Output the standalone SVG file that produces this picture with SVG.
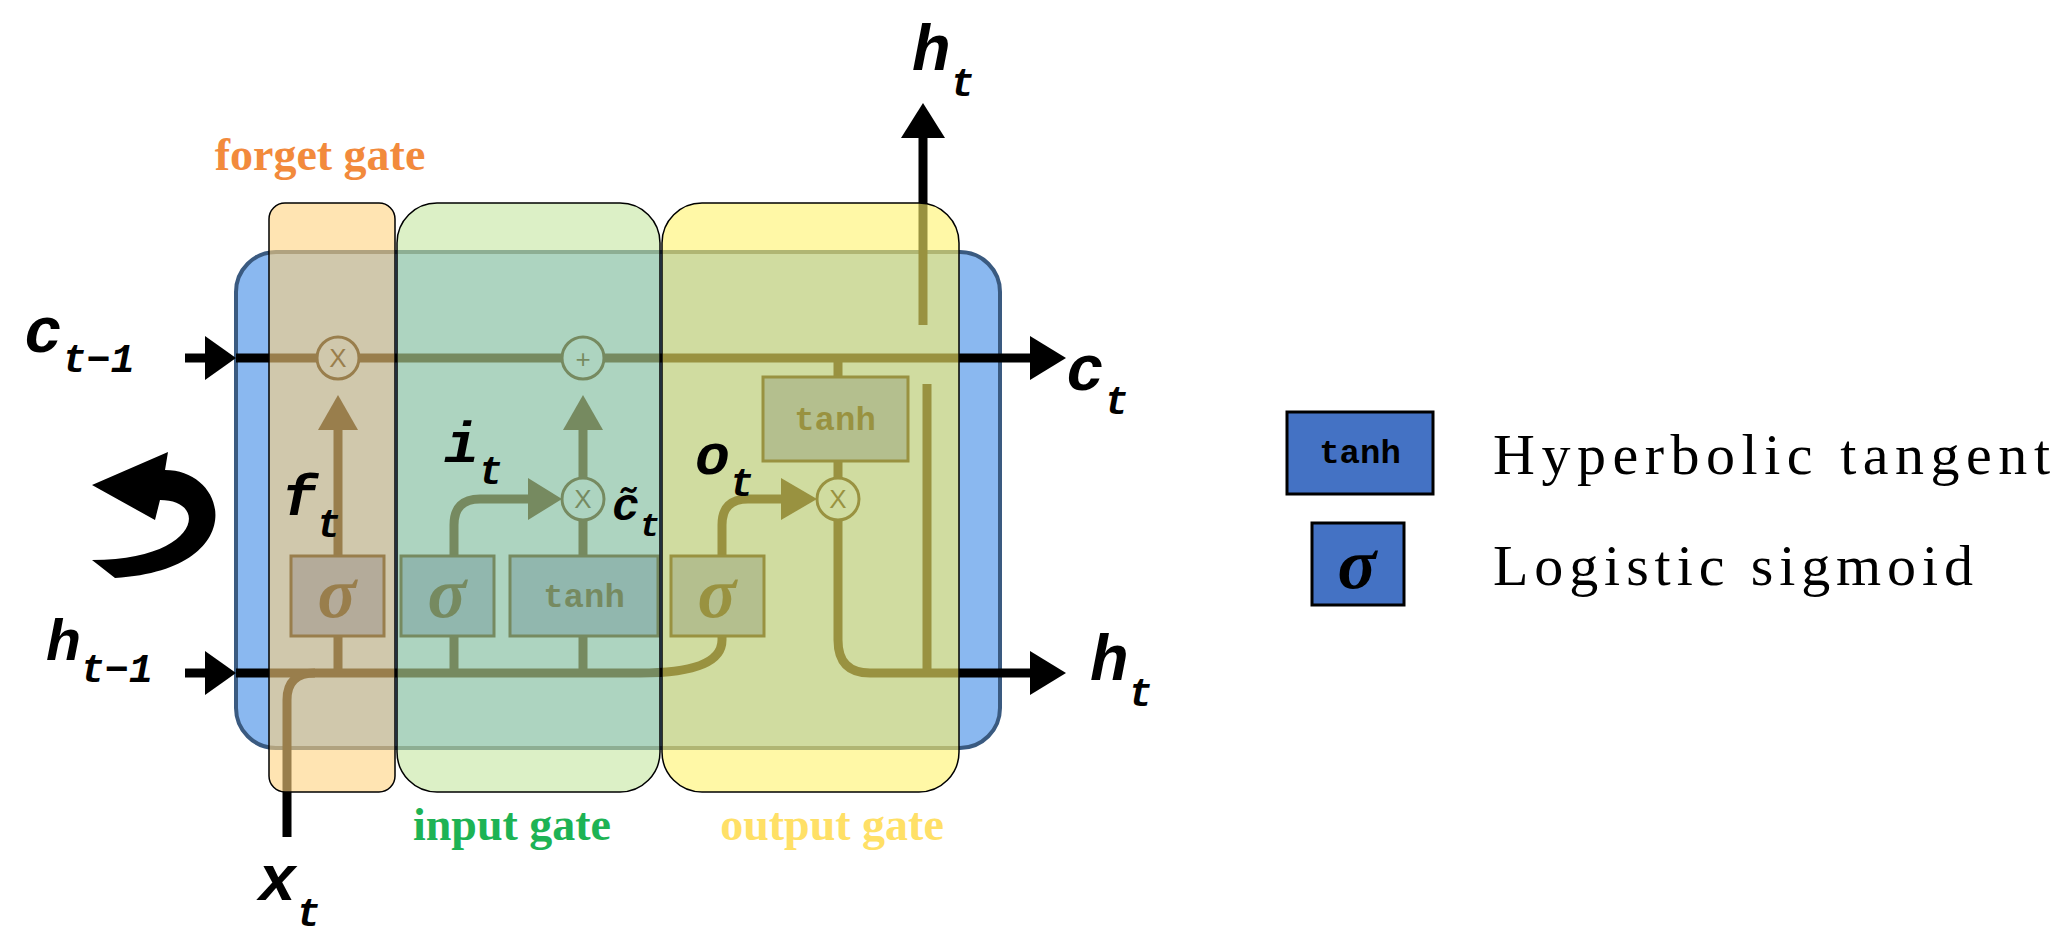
<svg xmlns="http://www.w3.org/2000/svg" width="2066" height="944" viewBox="0 0 2066 944">
<style>
.ln{fill:none;stroke:#000;stroke-width:9;stroke-linejoin:round}
.box{fill:#4472C4;stroke:#000;stroke-width:3}
.op{fill:#8ab8f0;stroke:#000;stroke-width:3}
.m{font-family:"Liberation Mono",monospace;font-weight:bold;font-style:italic;fill:#000}
.tn{font-family:"Liberation Mono",monospace;font-weight:bold;font-size:34px;fill:#000;text-anchor:middle}
.sg{font-family:"Liberation Serif",serif;font-style:italic;font-weight:bold;font-size:72px;fill:#000;text-anchor:middle}
.gl{font-family:"Liberation Serif",serif;font-weight:bold;font-size:46px;text-anchor:middle}
.lg{font-family:"Liberation Serif",serif;font-size:58px;fill:#000}
.ox{font-family:"Liberation Sans",sans-serif;font-size:26px;fill:#000;text-anchor:middle}
</style>
<defs><marker id="ah" markerWidth="5" markerHeight="5" refX="4" refY="2.5" orient="auto" markerUnits="strokeWidth"><path d="M0,0 L5,2.5 L0,5 Z" fill="#000"/></marker></defs>
<rect id="cell" x="236" y="252" width="764" height="496" rx="40" fill="#8ab8f0" stroke="#3a5a80" stroke-width="4"/>
<g id="connectors">
<path class="ln" d="M236,358 H1030"/>
<polygon points="1030,336 1066,358 1030,380"/>
<path class="ln" d="M185,358 H210"/><polygon points="205,336 236,358 205,380"/>
<path class="ln" d="M185,673 H210"/><polygon points="205,651 236,673 205,695"/>
<path class="ln" d="M236,673 H640 Q722,673 722,640 V636"/>
<path class="ln" d="M287,837 V700 Q287,673 315,673"/>
<path class="ln" d="M338,673 V636"/><path class="ln" d="M454,673 V636"/><path class="ln" d="M583,673 V636"/>
<path class="ln" d="M338,556 V430"/><polygon points="318,430 338,395 358,430"/>
<path class="ln" d="M583,556 V520"/><path class="ln" d="M583,478 V430"/><polygon points="563,430 583,395 603,430"/>
<path class="ln" d="M454,556 V525 Q454,499 480,499 H530"/><polygon points="528,478 562,499 528,520"/>
<path class="ln" d="M722,556 V525 Q722,499 748,499 H783"/><polygon points="781,478 817,499 781,520"/>
<path class="ln" d="M838,358 V377"/><path class="ln" d="M838,461 V478"/>
<path class="ln" d="M838,520 V640 Q838,673 870,673 H1030"/><polygon points="1030,651 1066,673 1030,695"/>
<path class="ln" d="M927,384 V673"/>
<path class="ln" d="M923,325 V135"/><polygon points="901,138 923,103 945,138"/>
<path d="M115,578 C250,570 230,470 165,470 L168,452 L92,485 L155,520 L160,500 C210,500 200,560 92,560 Z" fill="#000"/>
</g>
<g id="mult-f"><circle cx="338" cy="358" r="21" class="op"/><text class="ox" x="338" y="367">X</text></g>
<g id="plus"><circle cx="583" cy="358" r="21" class="op"/><text class="ox" x="583" y="368">+</text></g>
<g id="mult-i"><circle cx="583" cy="499" r="21" class="op"/><text class="ox" x="583" y="508">X</text></g>
<g id="mult-o"><circle cx="838" cy="499" r="21" class="op"/><text class="ox" x="838" y="508">X</text></g>
<g id="sig-f"><rect class="box" x="291" y="556" width="93" height="80"/><text class="sg" x="337" y="617">σ</text></g>
<g id="sig-i"><rect class="box" x="401" y="556" width="93" height="80"/><text class="sg" x="447" y="617">σ</text></g>
<g id="tanh-i"><rect class="box" x="510" y="556" width="148" height="80"/><text class="tn" x="584" y="607">tanh</text></g>
<g id="sig-o"><rect class="box" x="671" y="556" width="93" height="80"/><text class="sg" x="717" y="617">σ</text></g>
<g id="tanh-o"><rect class="box" x="763" y="377" width="145" height="84"/><text class="tn" x="835" y="430">tanh</text></g>
<g id="gates">
<rect x="269" y="203" width="126" height="589" rx="16" fill="#FFD27F" fill-opacity="0.6" stroke="#000" stroke-width="1.5"/>
<rect x="397" y="203" width="263" height="589" rx="40" fill="#C5E6A0" fill-opacity="0.6" stroke="#000" stroke-width="1.5"/>
<rect x="662" y="203" width="297" height="589" rx="40" fill="#FFF36B" fill-opacity="0.6" stroke="#000" stroke-width="1.5"/>
</g>
<g id="labels">
<text class="gl" x="320" y="170" fill="#F28A3C">forget gate</text>
<text class="gl" x="512" y="840" fill="#1DB354">input gate</text>
<text class="gl" x="832" y="840" fill="#FFE066">output gate</text>
<text class="m" x="24" y="352" font-size="64">c<tspan font-size="40" dy="20">t−1</tspan></text>
<text class="m" x="46" y="660" font-size="58">h<tspan font-size="40" dy="22">t−1</tspan></text>
<text class="m" x="1066" y="390" font-size="64">c<tspan font-size="40" dy="24">t</tspan></text>
<text class="m" x="1090" y="680" font-size="64">h<tspan font-size="40" dy="26">t</tspan></text>
<text class="m" x="912" y="70" font-size="64">h<tspan font-size="40" dy="26">t</tspan></text>
<text class="m" x="258" y="900" font-size="64">x<tspan font-size="40" dy="26">t</tspan></text>
<text class="m" x="282" y="515" font-size="58">f<tspan font-size="40" dy="22">t</tspan></text>
<text class="m" x="444" y="462" font-size="58">i<tspan font-size="40" dy="22">t</tspan></text>
<text class="m" x="695" y="474" font-size="58">o<tspan font-size="40" dy="22">t</tspan></text>
<text class="m" x="612" y="520" font-size="46">c̃<tspan font-size="34" dy="16">t</tspan></text>
</g>
<g id="legend">
<rect x="1287" y="412" width="146" height="82" fill="#4472C4" stroke="#000" stroke-width="3"/>
<text class="tn" x="1360" y="463">tanh</text>
<rect x="1312" y="523" width="92" height="82" fill="#4472C4" stroke="#000" stroke-width="3"/>
<text class="sg" x="1357" y="588">σ</text>
<text class="lg" x="1493" y="474" textLength="557">Hyperbolic tangent</text>
<text class="lg" x="1493" y="585" textLength="480">Logistic sigmoid</text>
</g>
</svg>
